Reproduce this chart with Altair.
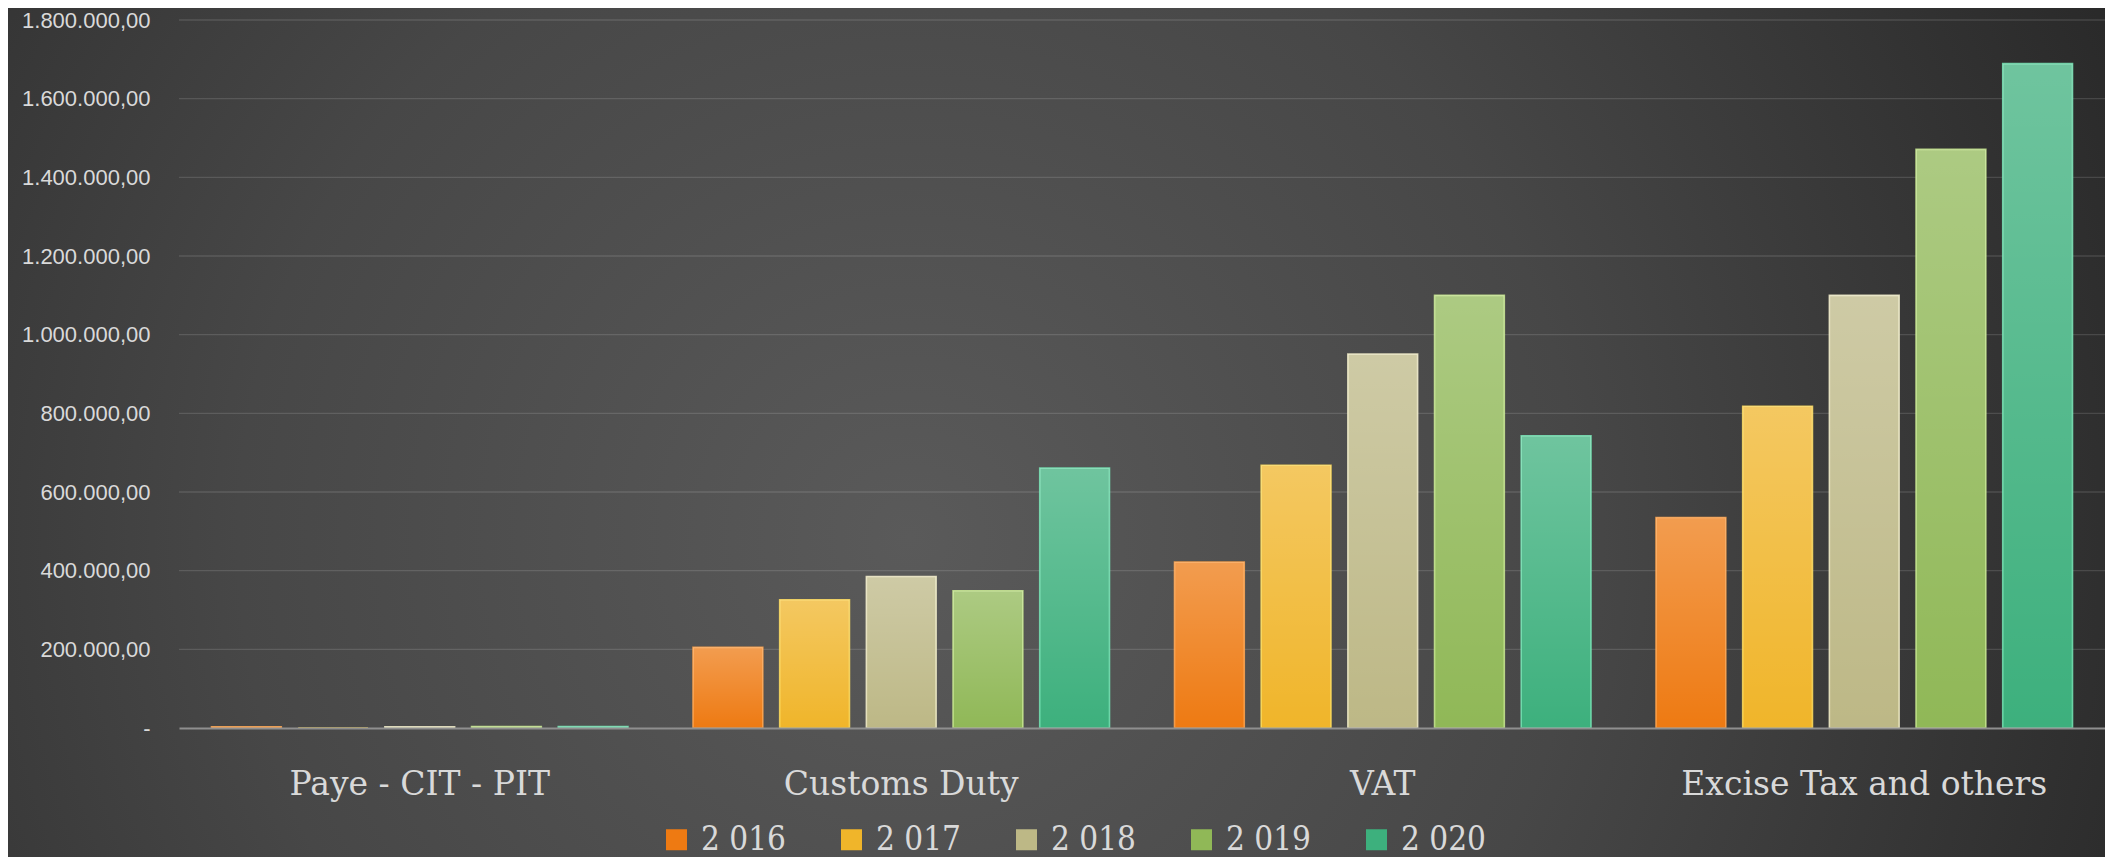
import altair as alt
import pandas as pd

categories = ["Paye - CIT - PIT", "Customs Duty", "VAT", "Excise Tax and others"]
series = ["2 016", "2 017", "2 018", "2 019", "2 020"]
v2016 = [3000, 205000, 422000, 535000]
v2017 = [0, 326000, 668000, 818000]
v2018 = [3000, 385000, 951000, 1100000]
v2019 = [3500, 349000, 1100000, 1471000]
v2020 = [3500, 661000, 743000, 1689000]
y_ticks = [0, 200000, 400000, 600000, 800000, 1000000, 1200000, 1400000, 1600000, 1800000]

base_colors = ["#EE7A12", "#F0B52A", "#BDB886", "#90B857", "#3DB07D"]
edge_colors = ["#FFA54E", "#FFDD5C", "#F1ECC8", "#C8E98F", "#74E4B4"]

values_by_series = [v2016, v2017, v2018, v2019, v2020]
rows = []
for s, vals in zip(series, values_by_series):
    for c, v in zip(categories, vals):
        rows.append({"category": c, "series": s, "value": v})
df = pd.DataFrame(rows)
grid_df = pd.DataFrame({"value": y_ticks[1:]})

W, H = 1926, 708
PAD_L, PAD_T, PAD_B = 171, 12, 129

LABEL_COLOR = "#d9d9d9"
y_scale = alt.Scale(domain=[0, 1800000], nice=False)
y_axis = alt.Axis(
    title=None, values=y_ticks, format=",.2f",
    labelExpr="datum.value == 0 ? '-\u00a0\u00a0' : datum.label",
    domain=False, ticks=False, grid=False, zindex=1,
    labelFont="Liberation Sans", labelFontSize=22, labelColor=LABEL_COLOR,
    labelPadding=29,
)

bg = alt.Chart(pd.DataFrame({"a": [0]})).mark_rect(
    color={
        "gradient": "radial",
        "x1": 0.43, "y1": 0.55, "r1": 0,
        "x2": 0.43, "y2": 0.55, "r2": 0.64,
        "stops": [
            {"offset": 0, "color": "#5a5a5a"},
            {"offset": 0.5, "color": "#474747"},
            {"offset": 1, "color": "#282828"},
        ],
    }
).encode(
    x=alt.value(-PAD_L), x2=alt.value(W),
    y=alt.value(-PAD_T), y2=alt.value(H + PAD_B),
)

grid = alt.Chart(grid_df).mark_rule(
    color="#ffffff", opacity=0.13, strokeWidth=1.3
).encode(y=alt.Y("value:Q", scale=y_scale, axis=y_axis))

x_enc = alt.X(
    "category:N",
    sort=categories,
    scale=alt.Scale(paddingInner=0.135, paddingOuter=0.0675),
    axis=alt.Axis(
        title=None, labelAngle=0, ticks=False, grid=False, zindex=1,
        domain=True, domainColor="#8f8f8f", domainWidth=2,
        labelFont="DejaVu Serif", labelFontSize=33, labelColor=LABEL_COLOR,
        labelPadding=40, labelLimit=600,
    ),
)
xo_enc = alt.XOffset(
    "series:N", sort=series,
    scale=alt.Scale(domain=series, paddingInner=0.195, paddingOuter=0),
)
y_enc = alt.Y("value:Q", scale=y_scale, axis=y_axis)

bars = alt.Chart(df).mark_bar(strokeWidth=1.6, strokeOpacity=0.85).encode(
    x=x_enc,
    xOffset=xo_enc,
    y=y_enc,
    color=alt.Color(
        "series:N", sort=series,
        scale=alt.Scale(domain=series, range=base_colors),
        legend=alt.Legend(
            title=None, orient="none", legendX=481, legendY=803,
            direction="horizontal",
            symbolType="square",
            symbolSize=441, symbolStrokeWidth=0,
            labelFont="DejaVu Serif Condensed, Liberation Sans Narrow, DejaVu Serif",
            labelFontSize=33, labelColor=LABEL_COLOR,
            labelOffset=8, columnPadding=49, padding=0, labelLimit=300,
        ),
    ),
    stroke=alt.Stroke(
        "series:N", sort=series,
        scale=alt.Scale(domain=series, range=edge_colors),
        legend=None,
    ),
)

shine = alt.Chart(df).mark_bar(
    color={
        "gradient": "linear",
        "x1": 0, "y1": 0, "x2": 0, "y2": 1,
        "stops": [
            {"offset": 0, "color": "rgba(255,255,255,0.26)"},
            {"offset": 1, "color": "rgba(255,255,255,0)"},
        ],
    }
).encode(x=x_enc, xOffset=xo_enc, y=y_enc)

chart = alt.layer(bg, grid, bars, shine).properties(
    width=W, height=H,
    autosize=alt.AutoSizeParams(type="none"),
    padding={"left": PAD_L, "top": PAD_T, "right": 0, "bottom": PAD_B},
    background="#2e2e2e",
).configure_view(stroke=None).configure(
    locale={"number": {"decimal": ",", "thousands": ".", "grouping": [3], "currency": ["", ""]}}
)

chart.save("out.html", embed_options={"renderer": "svg", "actions": False})
